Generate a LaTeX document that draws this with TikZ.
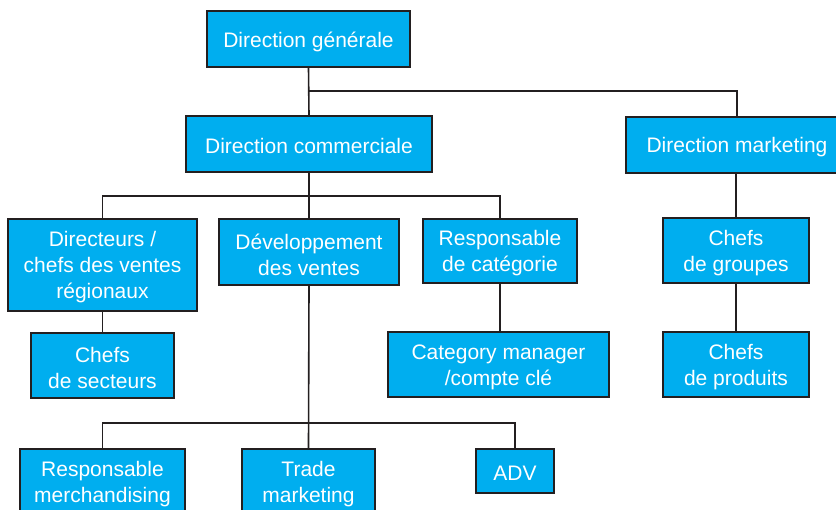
\documentclass[tikz,border=0pt]{standalone}
\usepackage{fontspec}
\setmainfont{Liberation Sans}
\definecolor{boxfill}{HTML}{00AEEF}
\definecolor{ink}{HTML}{231F20}
\begin{document}
\begin{tikzpicture}[x=1pt,y=1pt,
  orgbox/.style={draw=ink, line width=1.8pt, fill=boxfill, inner sep=0pt,
    label={[captxt]center:{#1}}},
  captxt/.style={text=white, align=center, inner sep=0pt, yshift=-2.5pt,
    font=\fontsize{21}{26}\selectfont},
  link/.style={draw=ink, line width=1.6pt}]
\useasboundingbox (0,0) rectangle (836,510);
\clip (0,0) rectangle (836,510);

% top level
\node[orgbox={Direction générale}, minimum width=203, minimum height=56] (dg) at (308.5,471) {};
\node[orgbox={Direction commerciale}, minimum width=246, minimum height=56] (dc) at (309,366) {};
\node[orgbox={Direction marketing}, minimum width=222, minimum height=56] (dm) at (737,365) {};

% second level
\node[orgbox={Directeurs /\\chefs des ventes\\régionaux}, minimum width=189, minimum height=92] (dir) at (102.5,245) {};
\node[orgbox={Développement\\des ventes}, minimum width=180, minimum height=66] (dev) at (309,258) {};
\node[orgbox={Responsable\\de catégorie}, minimum width=154, minimum height=64] (rc) at (500,259) {};
\node[orgbox={Chefs\\de groupes}, minimum width=146, minimum height=65] (cg) at (736,259.5) {};

% third level
\node[orgbox={Chefs\\de secteurs}, minimum width=143, minimum height=65] (cs) at (102.5,144.5) {};
\node[orgbox={Category manager\\/compte clé}, minimum width=221, minimum height=65] (cm) at (498.5,145.5) {};
\node[orgbox={Chefs\\de produits}, minimum width=146, minimum height=65] (cp) at (736,145.5) {};

% bottom level
\node[orgbox={Responsable\\merchandising}, minimum width=165, minimum height=66] (rm) at (102.5,28) {};
\node[orgbox={Trade\\marketing}, minimum width=133, minimum height=66] (tm) at (308.5,28) {};
\node[orgbox={ADV}, minimum width=78, minimum height=44] (adv) at (515,39) {};

% junction points
\coordinate (j1) at (309,419);
\coordinate (j2) at (309,314);
\coordinate (j3) at (309,87);

% connectors
\draw[link] (dg.south) -- (dc.north);
\draw[link] (j1) -| (dm.north);
\draw[link] (dc.south) -- (j2);
\draw[link] (j2) -| (dir.north);
\draw[link] (j2) -| (rc.north);
\draw[link] (j2) -- (dev.north);
\draw[link] (dir.south) -- (cs.north);
\draw[link] (rc.south) -- (rc.south |- cm.north);
\draw[link] (dm.south -| cg.north) -- (cg.north);
\draw[link] (cg.south) -- (cp.north);
\draw[link] (dev.south) -- (tm.north);
\draw[link] (j3) -| (rm.north);
\draw[link] (j3) -| (adv.north);
\end{tikzpicture}
\end{document}
